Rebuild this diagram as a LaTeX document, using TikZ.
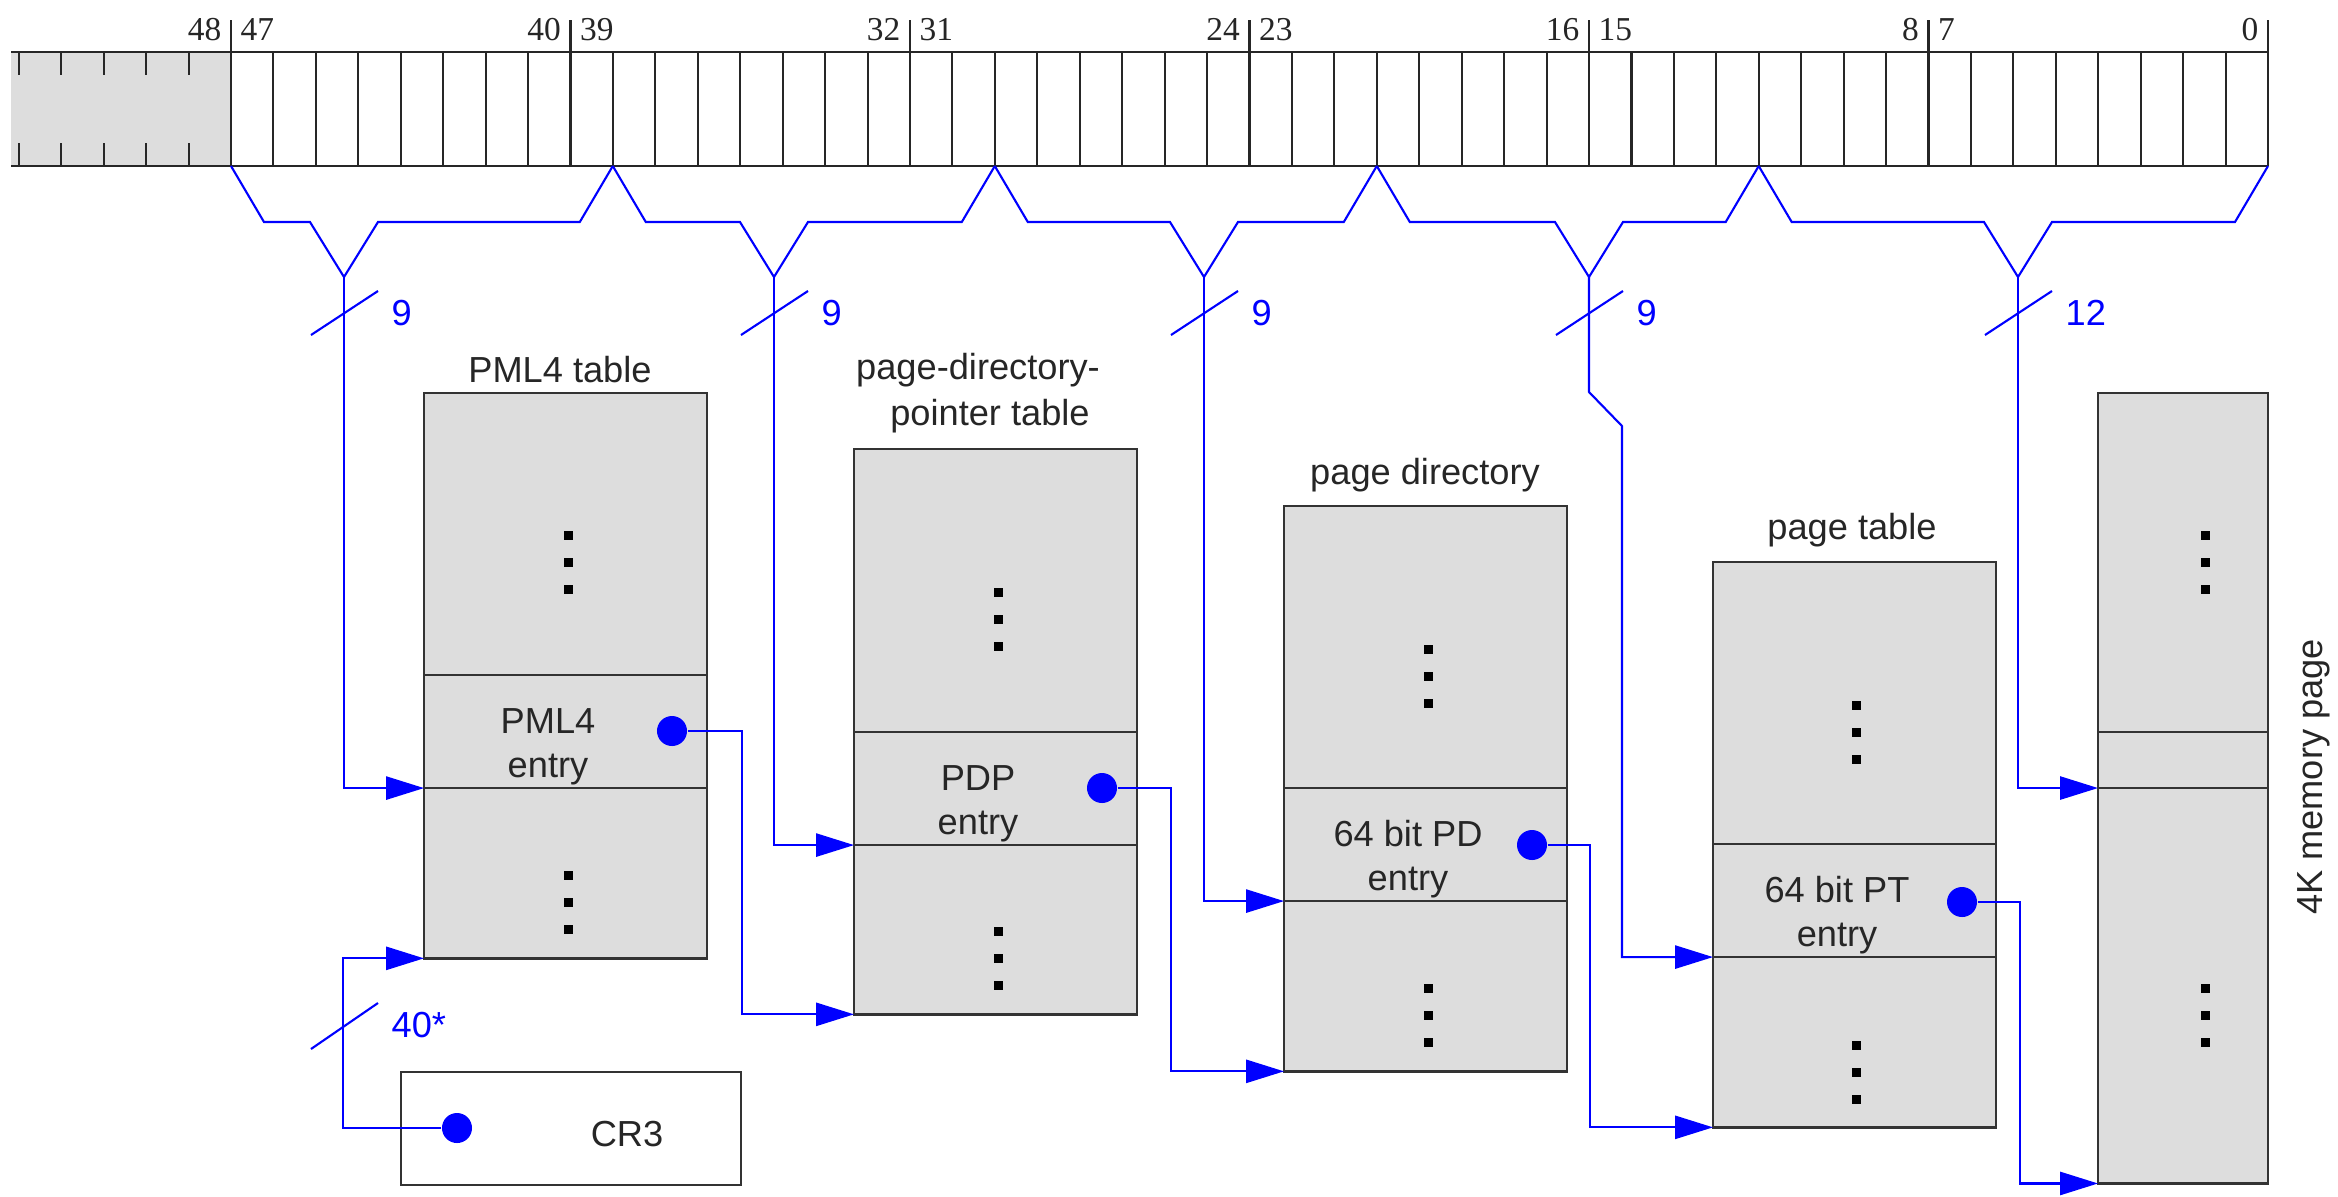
\documentclass[tikz,border=0pt]{standalone}
\usepackage{fontspec}
\setmainfont{Liberation Sans}
\newfontfamily\serf{Liberation Serif}
\usetikzlibrary{arrows.meta}
\definecolor{boxgray}{RGB}{221,221,221}
\definecolor{lineblue}{RGB}{0,0,255}
\newcommand\vdts[2]{\foreach \dy in {-27,0,27} {\fill[black] ({#1-4.5},{#2+\dy-4.5}) rectangle ({#1+4.5},{#2+\dy+4.5});}}
\begin{document}
\begin{tikzpicture}[x=0.01cm,y=-0.01cm,
  bk/.style={line width=0.6pt, draw=black!85},
  bl/.style={line width=0.6pt, draw=lineblue, line join=miter},
  arr/.style={bl, -{Triangle[length=10.8pt,width=6.6pt]}},
  tbl/.style={draw=black!80, line width=0.7pt, fill=boxgray, inner sep=0pt, outer sep=0pt, minimum width=2.83cm, minimum height=5.65cm, anchor=north west},
  ent/.style={draw=black!80, line width=0.7pt, fill=boxgray, inner sep=0pt, outer sep=0pt, minimum width=2.83cm, minimum height=1.13cm, anchor=north west},
  txt/.style={font=\fontsize{10.3}{12}\selectfont, text=black!85, inner sep=0pt, anchor=base},
  btxt/.style={font=\fontsize{10.3}{12}\selectfont, text=lineblue, inner sep=0pt, anchor=west},
  bit/.style={font=\serf\fontsize{9.5}{11}\selectfont, text=black!85, inner sep=0pt},
  pdot/.style={circle, fill=lineblue, draw=none, inner sep=0pt, minimum size=0.3cm},
]
\useasboundingbox (0,0) rectangle (2338,1196);
\fill[white] (0,0) rectangle (2338,1196);

% ---------- register bar ----------
\fill[boxgray] (11,52) rectangle (231,166);
\draw[bk] (11,52) -- (2268,52);
\draw[bk] (11,166) -- (2268,166);
\foreach \i in {0,...,48} \draw[bk] ({231+\i*42.4375},52) -- ({231+\i*42.4375},166);
\foreach \k in {1,...,5} {
  \draw[bk] ({231-\k*42.4375},52) -- ({231-\k*42.4375},75);
  \draw[bk] ({231-\k*42.4375},143) -- ({231-\k*42.4375},166);
}
\foreach \i in {0,8,...,48} \draw[bk] ({231+\i*42.4375},20) -- ({231+\i*42.4375},52);
\foreach \i/\l/\r in {0/48/47, 8/40/39, 16/32/31, 24/24/23, 32/16/15, 40/8/7} {
  \node[bit, anchor=base east] (bl\i) at ({231+\i*42.4375-9},40) {\l};
  \node[bit, anchor=base west] (br\i) at ({231+\i*42.4375+9},40) {\r};
}
\node[bit, anchor=base east] (b0) at (2259,40) {0};

% ---------- braces ----------
\foreach \L/\R/\X/\n in {231/612.8/344/1, 612.8/994.8/774/2, 994.8/1376.8/1204/3, 1376.8/1758.7/1589/4, 1758.7/2268/2018/5} {
  \draw[bl] (\L,166) -- ({\L+33},222) -- ({\X-34},222) -- (\X,277) -- ({\X+34},222) -- ({\R-33},222) -- (\R,166);
  \coordinate (v\n) at (\X,277);
}

% ---------- tables ----------
\node[tbl] (pml4) at (424,393) {};
\node[ent] (pml4e) at (424,675) {};
\node[tbl] (pdp) at (854,449) {};
\node[ent] (pdpe) at (854,732) {};
\node[tbl] (pd) at (1284,506) {};
\node[ent] (pde) at (1284,788) {};
\node[tbl] (pt) at (1713,562) {};
\node[ent] (pte) at (1713,844) {};
\node[tbl, minimum width=1.7cm, minimum height=7.9cm] (mem) at (2098,393) {};
\node[ent, minimum width=1.7cm, minimum height=0.56cm] (meme) at (2098,732) {};
\node[ent, fill=white, minimum width=3.4cm] (cr3) at (401,1072) {};

% titles
\node[txt] (pml4l) at (560,382) {PML4 table};
\node[txt] (pdpl1) at (978,379) {page-directory-};
\node[txt] (pdpl2) at (990,425) {pointer table};
\node[txt] (pdl) at (1425,484) {page directory};
\node[txt] (ptl) at (1852,539) {page table};
\node[txt, rotate=90] (meml) at (2322,777) {4K memory page};

% entry texts
\node[txt] (pml4t1) at (548,733) {PML4};
\node[txt] (pml4t2) at (548,777) {entry};
\node[txt] (pdpt1) at (978,790) {PDP};
\node[txt] (pdpt2) at (978,834) {entry};
\node[txt] (pdt1) at (1408,846) {64 bit PD};
\node[txt] (pdt2) at (1408,890) {entry};
\node[txt] (ptt1) at (1837,902) {64 bit PT};
\node[txt] (ptt2) at (1837,946) {entry};
\node[txt] (cr3t) at (627,1146) {CR3};

% vertical dots
\vdts{568}{562}
\vdts{568}{902}
\vdts{998}{619}
\vdts{998}{958}
\vdts{1428}{676}
\vdts{1428}{1015}
\vdts{1856}{732}
\vdts{1856}{1072}
\vdts{2205}{562}
\vdts{2205}{1015}

% pointer dots
\node[pdot] (pml4dot) at (672,731) {};
\node[pdot] (pdpdot) at (1102,788) {};
\node[pdot] (pddot) at (1532,845) {};
\node[pdot] (ptdot) at (1962,902) {};
\node[pdot] (cr3dot) at (457,1128) {};

% ---------- connectors ----------
\coordinate (j4a) at (1589,392);
\coordinate (j4b) at (1622,426);
\draw[arr] (v1) |- (pml4e.south west);
\draw[arr] (v2) |- (pdpe.south west);
\draw[arr] (v3) |- (pde.south west);
\draw[arr] (v4) -- (j4a) -- (j4b) |- (pte.south west);
\draw[arr] (v5) |- (meme.south west);

\draw[arr] (pml4dot.east) -- ++(54,0) |- (pdp.south west);
\draw[arr] (pdpdot.east) -- ++(53,0) |- (pd.south west);
\draw[arr] (pddot.east) -- ++(42,0) |- (pt.south west);
\draw[arr] (ptdot.east) -- ++(42,0) |- (mem.south west);
\draw[arr] (cr3dot.west) -- ++(-98,0) |- (pml4.south west);

% slashes and widths
\foreach \X in {344,774,1204,1589,2018} \draw[bl] ({\X-33},335) -- ({\X+34},291);
\draw[bl] (311,1049) -- (378,1003);
\node[btxt] (w1) at (391,313) {9};
\node[btxt] (w2) at (821,313) {9};
\node[btxt] (w3) at (1251,313) {9};
\node[btxt] (w4) at (1636,313) {9};
\node[btxt] (w5) at (2065,313) {12};
\node[btxt] (w6) at (391,1025) {40*};
\end{tikzpicture}
\end{document}
